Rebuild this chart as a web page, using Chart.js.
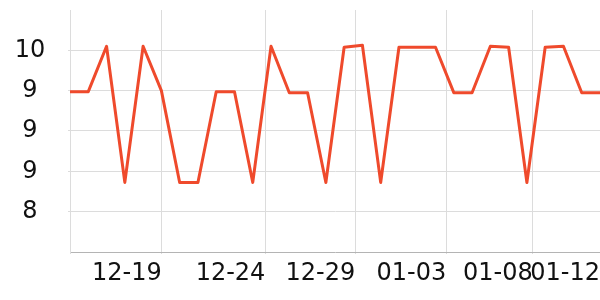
<!DOCTYPE html>
<html>
<head>
<meta charset="utf-8">
<script src="https://cdn.jsdelivr.net/npm/chart.js@4/dist/chart.umd.min.js"></script>
<style>
  html, body { margin: 0; padding: 0; background: #fff; }
  #wrap { width: 600px; height: 300px; }
</style>
</head>
<body>
<div id="wrap"><canvas id="chart"></canvas></div>
<script>
// values, one per point (evenly spaced)
const values = [
    9.39, 9.39, 9.84, 8.49, 9.84, 9.40, 8.49, 8.49, 9.39, 9.39,
    8.49, 9.84, 9.38, 9.38, 8.49, 9.83, 9.85, 8.49, 9.83, 9.83,
    9.83, 9.38, 9.38, 9.84, 9.83, 8.49, 9.83, 9.84, 9.38, 9.38
];

// x ticks sit between points (index units), labels are the dates
const xTickPos = [0, 5.02, 10.69, 15.61, 20.59, 25.32, 29];
const xTickLabels = ["", "12-19", "12-24", "12-29", "01-03", "01-08", "01-12"];

const yMin = 7.8;
const yMax = 10.2;
const yTickPos = [8.2, 8.6, 9.0, 9.4, 9.8];
const yTickLabels = ["8", "9", "9", "9", "10"];

const points = values.map((v, i) => ({ x: i, y: v }));

Chart.defaults.font.family = "'DejaVu Sans', sans-serif";
Chart.defaults.font.size = 24;
Chart.defaults.color = "#111";

function noPadding(scale) {
    scale.paddingTop = 0;
    scale.paddingBottom = 0;
    scale.paddingLeft = 0;
    scale.paddingRight = 0;
}

new Chart(document.getElementById("chart"), {
    type: "line",
    data: {
        datasets: [{
            data: points,
            borderColor: "#ef4a2c",
            borderWidth: 3,
            borderJoinStyle: "round",
            borderCapStyle: "round",
            pointRadius: 0,
            tension: 0,
            fill: false
        }]
    },
    options: {
        responsive: true,
        maintainAspectRatio: false,
        animation: false,
        layout: { padding: { top: 10, right: 0, bottom: 0, left: 0 } },
        plugins: {
            legend: { display: false },
            tooltip: { enabled: false }
        },
        scales: {
            x: {
                type: "linear",
                min: 0,
                max: values.length - 1,
                afterBuildTicks: (scale) => {
                    scale.ticks = xTickPos.map(v => ({ value: v }));
                },
                afterFit: (scale) => { scale.height = 48; noPadding(scale); },
                grid: { color: "#dcdcdc", tickLength: 2 },
                border: { color: "#b4b4b4" },
                ticks: {
                    align: "end",
                    autoSkip: false,
                    maxRotation: 0,
                    padding: 5.5,
                    callback: (value, index) => xTickLabels[index]
                }
            },
            y: {
                min: yMin,
                max: yMax,
                afterBuildTicks: (scale) => {
                    scale.ticks = yTickPos.map(v => ({ value: v }));
                },
                afterFit: (scale) => { scale.width = 70; noPadding(scale); },
                grid: { color: "#dcdcdc", tickLength: 2 },
                border: { color: "#dcdcdc" },
                ticks: {
                    crossAlign: "center",
                    padding: 22.75,
                    callback: (value, index) => yTickLabels[index]
                }
            }
        }
    }
});
</script>
</body>
</html>
